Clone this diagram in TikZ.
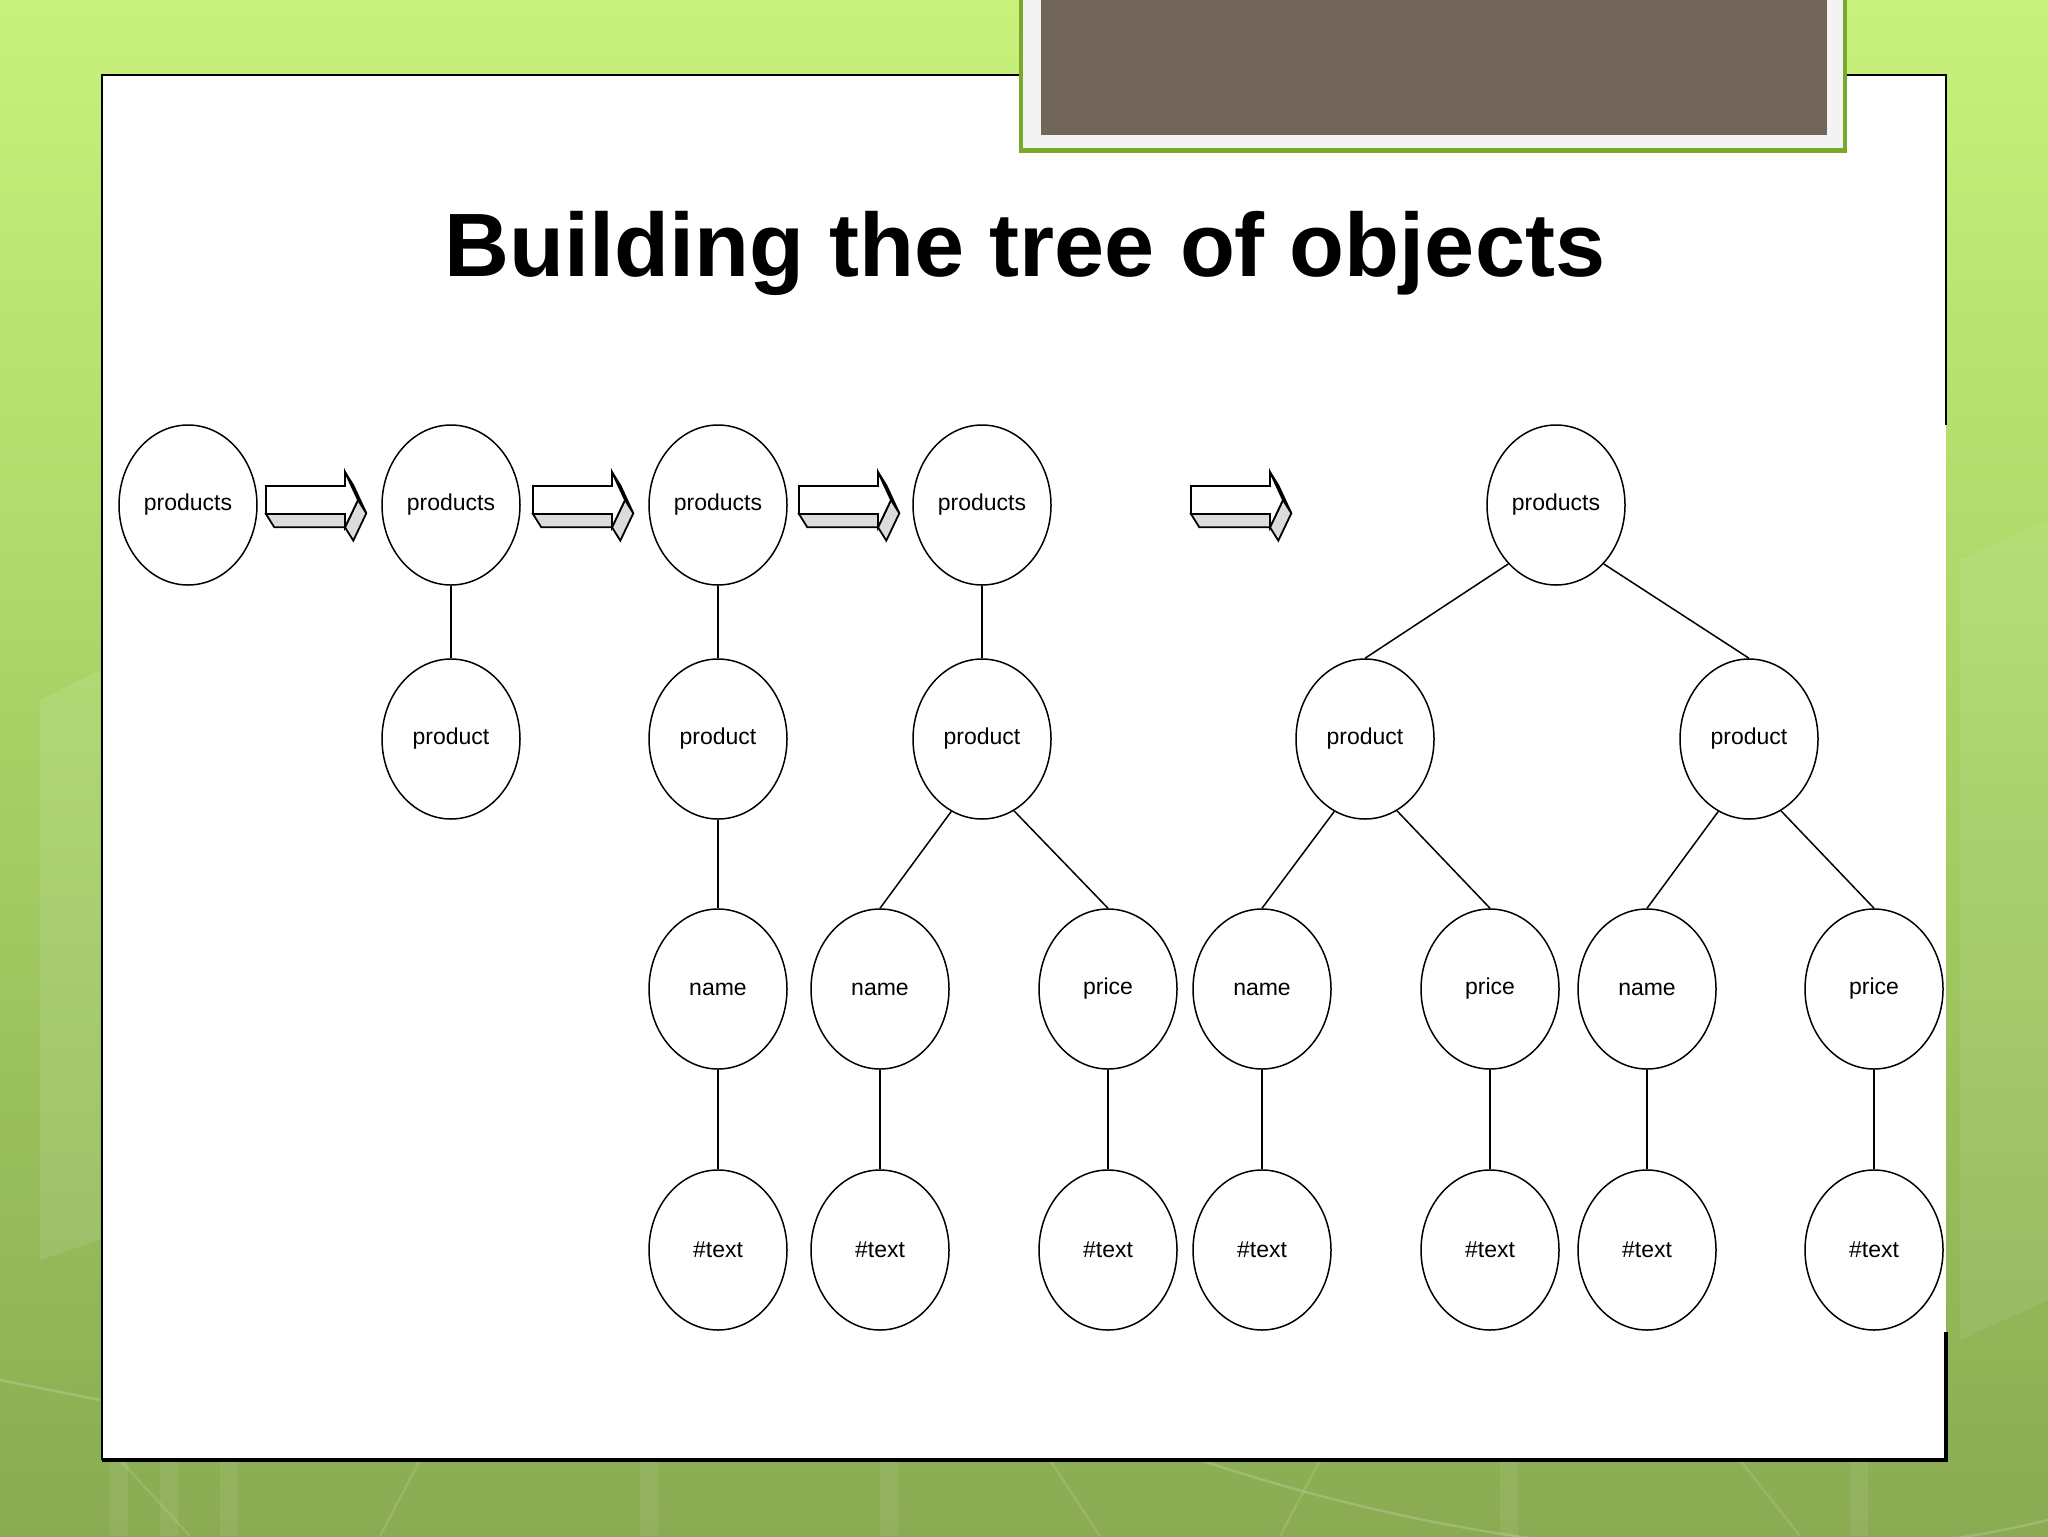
\documentclass[tikz,border=0pt]{standalone}
\usepackage{fontspec}
\setmainfont{Liberation Sans}
\usetikzlibrary{shapes.geometric}
\definecolor{bgtop}{HTML}{C8F27C}
\definecolor{bgmid}{HTML}{A6D064}
\definecolor{bgbot}{HTML}{8AAB52}
\definecolor{bannergreen}{HTML}{7AA82A}
\definecolor{bannergray}{HTML}{F3F3F3}
\definecolor{bannerbrown}{HTML}{72665A}
\definecolor{depthgray}{HTML}{DCDCDC}
\tikzset{
  tnode/.style={ellipse,draw=black,line width=0.75pt,fill=white,
    minimum width=69pt,minimum height=80pt,inner sep=0pt,
    font=\fontsize{11.5}{13}\selectfont},
  tedge/.style={draw=black,line width=0.75pt},
  face/.style={draw=black,line width=0.9pt,line join=miter},
  deco/.style={white,opacity=0.18,line width=1.2pt},
  arrowthreed/.pic={
    \filldraw[face,fill=depthgray] (0,28) -- (79,28) -- (87.3,41.3) -- (8.3,41.3) -- cycle;
    \filldraw[face,fill=depthgray] (79,-14) -- (92,14) -- (100.3,27.3) -- (87.3,-0.7) -- cycle;
    \filldraw[face,fill=depthgray] (92,14) -- (79,41.3) -- (87.3,54.6) -- (100.3,27.3) -- cycle;
    \filldraw[face,fill=white] (0,0) -- (79,0) -- (79,-14) -- (92,14) -- (79,41.3) -- (79,28) -- (0,28) -- cycle;
  }
}
\begin{document}
\begin{tikzpicture}[x=0.5pt,y=-0.5pt]
\useasboundingbox (0,0) rectangle (2048,1536);
% background
\shade[top color=bgtop,bottom color=bgbot,middle color=bgmid] (0,0) rectangle (2048,1536);
\fill[white,opacity=0.10] (40,700) -- (100,670) -- (100,1240) -- (40,1260) -- cycle;
\fill[white,opacity=0.08] (1960,560) -- (2048,520) -- (2048,1300) -- (1960,1340) -- cycle;
\draw[deco] (0,1380) -- (100,1400);
\draw[deco] (1200,1460) .. controls (1500,1560) and (1800,1580) .. (2048,1520);
\foreach \sx in {110,160,220,640,880,1500,1850}{
  \fill[white,opacity=0.07] (\sx,1460) rectangle (\sx+18,1536);
}
\draw[deco,opacity=0.12] (120,1460) -- (190,1536);
\draw[deco,opacity=0.12] (420,1460) -- (380,1536);
\draw[deco,opacity=0.12] (1050,1460) -- (1100,1536);
\draw[deco,opacity=0.12] (1320,1460) -- (1280,1536);
\draw[deco,opacity=0.12] (1740,1460) -- (1800,1536);
% panel
\fill[white] (102,75) rectangle (1946,1460);
\draw[black,line width=0.8pt] (1946,425) -- (1946,75) -- (102,75) -- (102,1460);
\draw[black,line width=1.6pt] (102,1460) -- (1946,1460) -- (1946,1332);
% banner
\fill[bannergreen] (1019,-5) rectangle (1847,153);
\fill[bannergray] (1023,-5) rectangle (1843,148);
\fill[bannerbrown] (1041,-5) rectangle (1827,135);
% title
\node[font=\fontsize{45}{54}\selectfont\bfseries,anchor=base] (title) at (1025,276) {Building the tree of objects};
% arrows
\pic at (266,486) {arrowthreed};
\pic at (533,486) {arrowthreed};
\pic at (799,486) {arrowthreed};
\pic at (1191,486) {arrowthreed};
% stage 1
\node[tnode] (pA) at (188,505) {products};
% stage 2
\node[tnode] (pB) at (451,505) {products};
\node[tnode] (qB) at (451,739) {product};
% stage 3
\node[tnode] (pC) at (718,505) {products};
\node[tnode] (qC) at (718,739) {product};
\node[tnode] (nC) at (718,989) {name};
\node[tnode] (tC) at (718,1250) {\#text};
% stage 4
\node[tnode] (pD) at (982,505) {products};
\node[tnode] (qD) at (982,739) {product};
\node[tnode] (nD) at (880,989) {name};
\node[tnode] (rD) at (1108,989) {price};
\node[tnode] (tnD) at (880,1250) {\#text};
\node[tnode] (trD) at (1108,1250) {\#text};
% stage 5
\node[tnode] (pE) at (1556,505) {products};
\node[tnode] (qEa) at (1365,739) {product};
\node[tnode] (qEb) at (1749,739) {product};
\node[tnode] (nEa) at (1262,989) {name};
\node[tnode] (rEa) at (1490,989) {price};
\node[tnode] (nEb) at (1647,989) {name};
\node[tnode] (rEb) at (1874,989) {price};
\node[tnode] (tnEa) at (1262,1250) {\#text};
\node[tnode] (trEa) at (1490,1250) {\#text};
\node[tnode] (tnEb) at (1647,1250) {\#text};
\node[tnode] (trEb) at (1874,1250) {\#text};
% connectors
\draw[tedge] (pB.south) -- (qB.north);
\draw[tedge] (pC.south) -- (qC.north);
\draw[tedge] (qC.south) -- (nC.north);
\draw[tedge] (nC.south) -- (tC.north);
\draw[tedge] (pD.south) -- (qD.north);
\draw[tedge] (qD.247) -- (nD.north);
\draw[tedge] (qD.294) -- (rD.north);
\draw[tedge] (nD.south) -- (tnD.north);
\draw[tedge] (rD.south) -- (trD.north);
\draw[tedge] (pE.231) -- (qEa.north);
\draw[tedge] (pE.309) -- (qEb.north);
\draw[tedge] (qEa.247) -- (nEa.north);
\draw[tedge] (qEa.294) -- (rEa.north);
\draw[tedge] (qEb.247) -- (nEb.north);
\draw[tedge] (qEb.294) -- (rEb.north);
\draw[tedge] (nEa.south) -- (tnEa.north);
\draw[tedge] (rEa.south) -- (trEa.north);
\draw[tedge] (nEb.south) -- (tnEb.north);
\draw[tedge] (rEb.south) -- (trEb.north);
\end{tikzpicture}
\end{document}
